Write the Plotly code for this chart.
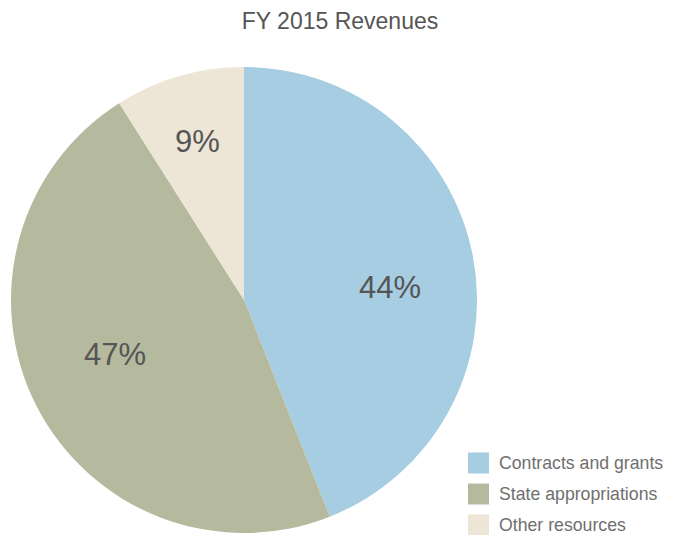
import math
import plotly.graph_objects as go

categories = ["Contracts and grants", "State appropriations", "Other resources"]
values = [44, 47, 9]
colors = ["#a6cde1", "#b5b99d", "#ede5d5"]

W, H = 673, 535
OFF = 8  # default page body margin

def px(x):
    return (x - OFF) / W

def py(y):
    return 1 - (y - OFF) / H

# pie geometry (in page pixels)
CX, CY, R = 244, 300, 233
label_r = [0.64, 0.62, 0.71]
label_dy = [15, -11, 0]

fig = go.Figure()
fig.add_trace(go.Pie(
    labels=categories,
    values=values,
    sort=False,
    direction="clockwise",
    rotation=0,
    marker=dict(colors=colors, line=dict(width=0)),
    textinfo="none",
    hoverinfo="label+percent",
    showlegend=False,
    domain=dict(x=[px(CX - R), px(CX + R)], y=[py(CY + R), py(CY - R)]),
))

font = "Liberation Sans, Arial, sans-serif"
annotations = []
total = sum(values)
cum = 0
for i, v in enumerate(values):
    mid = (cum + v / 2) / total * 2 * math.pi
    cum += v
    r = R * label_r[i]
    x = CX + r * math.sin(mid)
    y = CY - r * math.cos(mid) + label_dy[i]
    annotations.append(dict(
        x=px(x), y=py(y), xref="paper", yref="paper",
        text=f"{round(v / total * 100)}%", showarrow=False,
        xanchor="center", yanchor="middle",
        font=dict(size=31, color="#555555", family=font),
    ))

shapes = []
for i, (name, c) in enumerate(zip(categories, colors)):
    yc = 463 + i * 31
    shapes.append(dict(type="rect", xref="paper", yref="paper",
                       x0=px(468), x1=px(489), y0=py(yc + 10.5), y1=py(yc - 10.5),
                       fillcolor=c, line=dict(width=0)))
    annotations.append(dict(
        x=px(498.5), y=py(yc), xref="paper", yref="paper",
        text=name, showarrow=False, xanchor="left", yanchor="middle",
        borderpad=0, borderwidth=0,
        font=dict(size=17.7, color="#6f6f6f", family=font),
    ))

fig.update_layout(
    width=W, height=H,
    margin=dict(l=0, r=0, t=0, b=0),
    paper_bgcolor="white",
    plot_bgcolor="white",
    title=dict(text="FY 2015 Revenues", x=px(340), xanchor="center", y=py(21), yanchor="middle",
               font=dict(size=23, color="#555555", family=font)),
    annotations=annotations,
    shapes=shapes,
    showlegend=False,
)

fig.write_html("out.html")
